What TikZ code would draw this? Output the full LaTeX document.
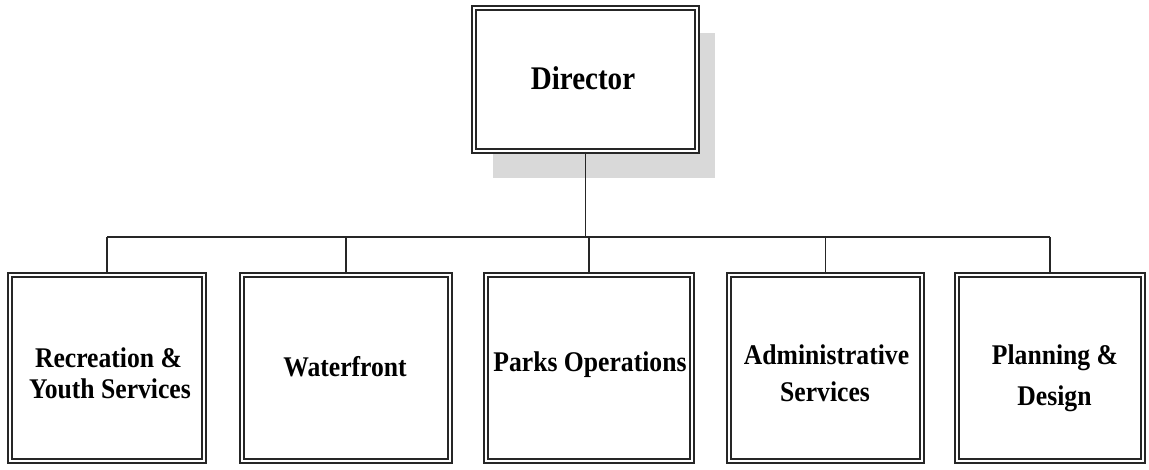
\documentclass[tikz,border=0pt]{standalone}
\usepackage{fontspec}
\setmainfont{Liberation Serif}
\newfontfamily\unitfont[FakeStretch=0.9]{Liberation Serif}
\newfontfamily\headfont[FakeStretch=0.88]{Liberation Serif}
\begin{document}
\begin{tikzpicture}[x=1pt,y=-1pt,
  unitbox/.style={draw=black!85, line width=1.8pt, double=white, double distance=2.6pt,
    fill=white, inner sep=0pt},
  unittext/.style={anchor=base, inner sep=0pt, font=\unitfont\bfseries\fontsize{28.5}{30}\selectfont},
  headtext/.style={anchor=base, inner sep=0pt, font=\headfont\bfseries\fontsize{33}{36}\selectfont},
  link/.style={draw=black!85, line width=1.5pt}]
\useasboundingbox (0,0) rectangle (1149,470);
% shadow of the director box
\fill[gray!30] (493,33) rectangle (715,178);
\node[unitbox, minimum width=223pt, minimum height=143pt] (dir) at (585.5,79.5) {};
\node[unitbox, minimum width=194pt, minimum height=186pt] (c1) at (107,368) {};
\node[unitbox, minimum width=208pt, minimum height=186pt] (c2) at (346,368) {};
\node[unitbox, minimum width=206pt, minimum height=186pt] (c3) at (589,368) {};
\node[unitbox, minimum width=193pt, minimum height=186pt] (c4) at (825.5,368) {};
\node[unitbox, minimum width=186pt, minimum height=186pt] (c5) at (1050,368) {};
% labels
\node[headtext] (tdir) at (583,90) {Director};
\node[unittext] (t1a) at (108.5,368) {Recreation \&};
\node[unittext] (t1b) at (110,398) {Youth Services};
\node[unittext] (t2) at (345,377) {Waterfront};
\node[unittext] (t3) at (590,372) {Parks Operations};
\node[unittext] (t4a) at (826.5,365) {Administrative};
\node[unittext] (t4b) at (825,402) {Services};
\node[unittext] (t5a) at (1055,365) {Planning \&};
\node[unittext] (t5b) at (1054.5,405) {Design};
% connectors
\coordinate (bus) at (0,237);
\draw[link] (c1.north |- bus) -- (c5.north |- bus);
\draw[link] (dir.south) -- (dir.south |- bus);
\foreach \n in {c1,c2,c3,c4,c5}
  \draw[link] (\n.north) -- (\n.north |- bus);
\end{tikzpicture}
\end{document}
